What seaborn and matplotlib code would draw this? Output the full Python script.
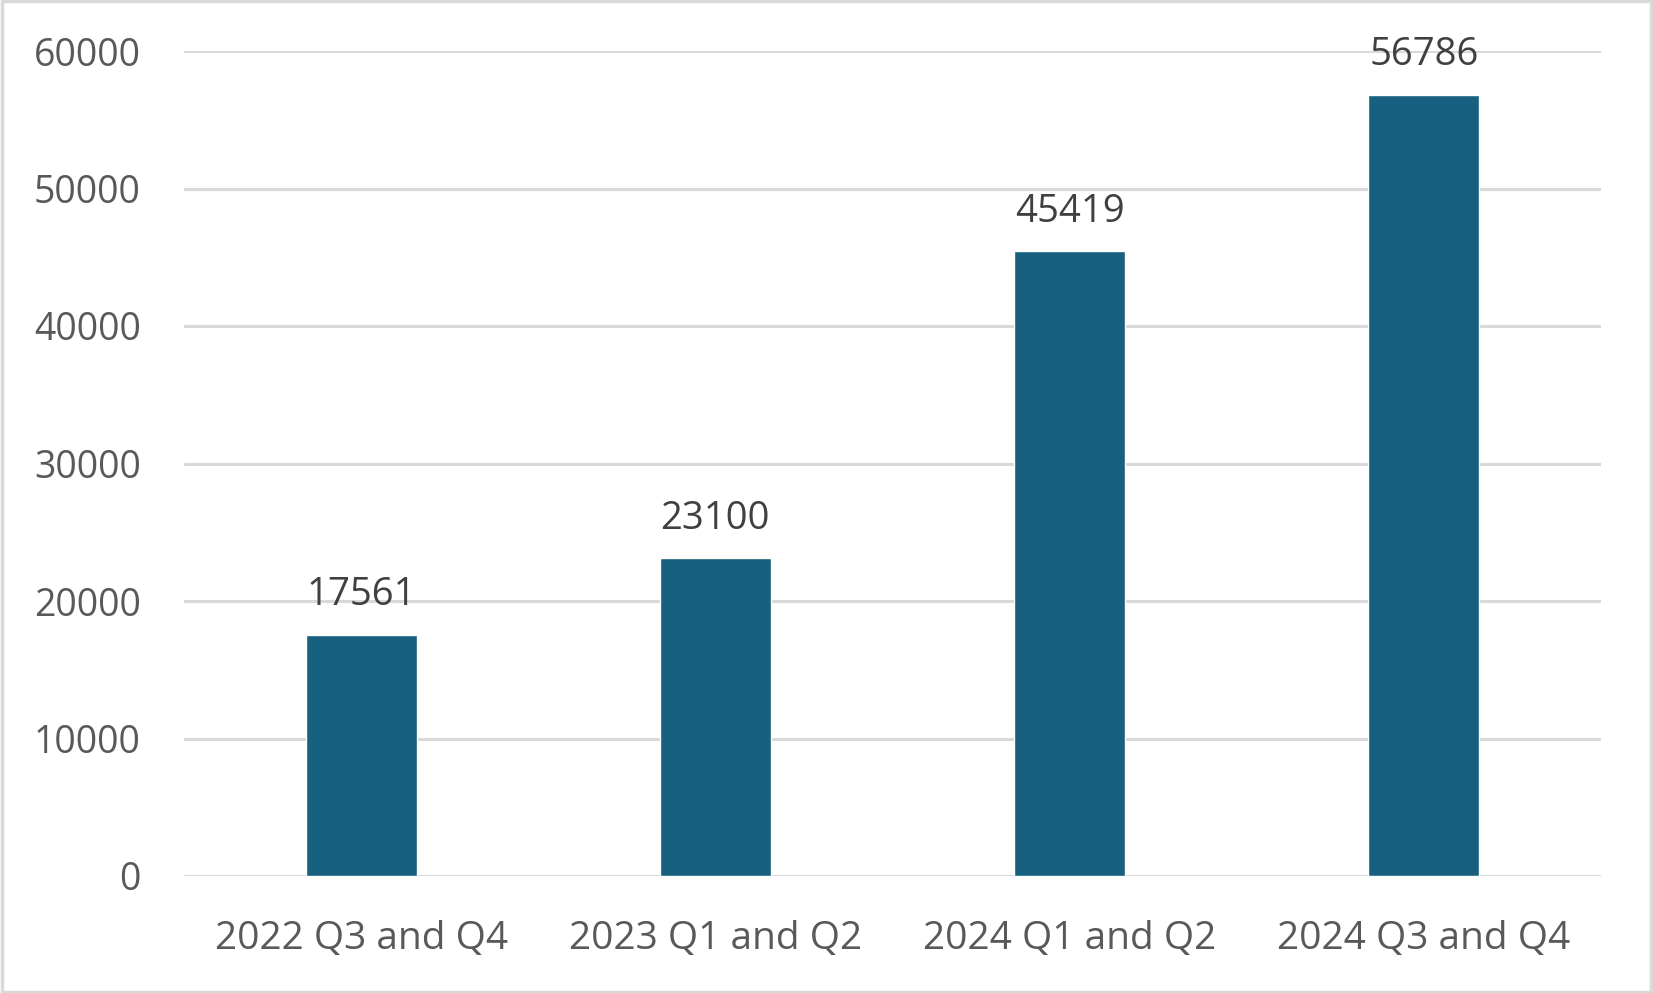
import matplotlib
matplotlib.use("Agg")
import matplotlib.pyplot as plt
import seaborn as sns
import pandas as pd
from matplotlib.patches import Rectangle

categories = ["2022 Q3 and Q4", "2023 Q1 and Q2", "2024 Q1 and Q2", "2024 Q3 and Q4"]
values = [17561, 23100, 45419, 56786]
yticks = [0, 10000, 20000, 30000, 40000, 50000, 60000]

sns.set_theme(style="white")
plt.rcParams['font.family'] = ['Open Sans', 'DejaVu Sans']

df = pd.DataFrame({"period": categories, "count": values})

fig = plt.figure(figsize=(16.53, 9.93), dpi=100)
ax = fig.add_axes([184/1653, 1-876/993, (1601-184)/1653, (876-51)/993])

sns.barplot(data=df, x="period", y="count", color="#17607f", width=0.314,
            saturation=1, ax=ax, zorder=3)

ax.set_ylim(0, 60000)
ax.set_xlim(-0.5, 3.5)
ax.set_yticks(yticks)
ax.set_yticklabels([str(v) for v in yticks])
ax.yaxis.grid(True, color="#d9d9d9", linewidth=2.2, zorder=0)
ax.set_axisbelow(True)
for s in ax.spines.values():
    s.set_visible(False)
ax.tick_params(axis="y", length=0, pad=31, labelsize=27, labelcolor="#595959")
ax.tick_params(axis="x", length=0, pad=32, labelsize=28, labelcolor="#595959")
ax.set_xlabel("")
ax.set_ylabel("")

ax.bar_label(ax.containers[0], labels=[str(v) for v in values], padding=15,
             fontsize=27.5, color="#404040")

fig.patches.append(Rectangle((0.001, 0.001), 0.998, 0.998, transform=fig.transFigure,
                             fill=False, edgecolor="#d9d9d9", linewidth=2.5))

fig.savefig("out.png", dpi=100, facecolor="white")
